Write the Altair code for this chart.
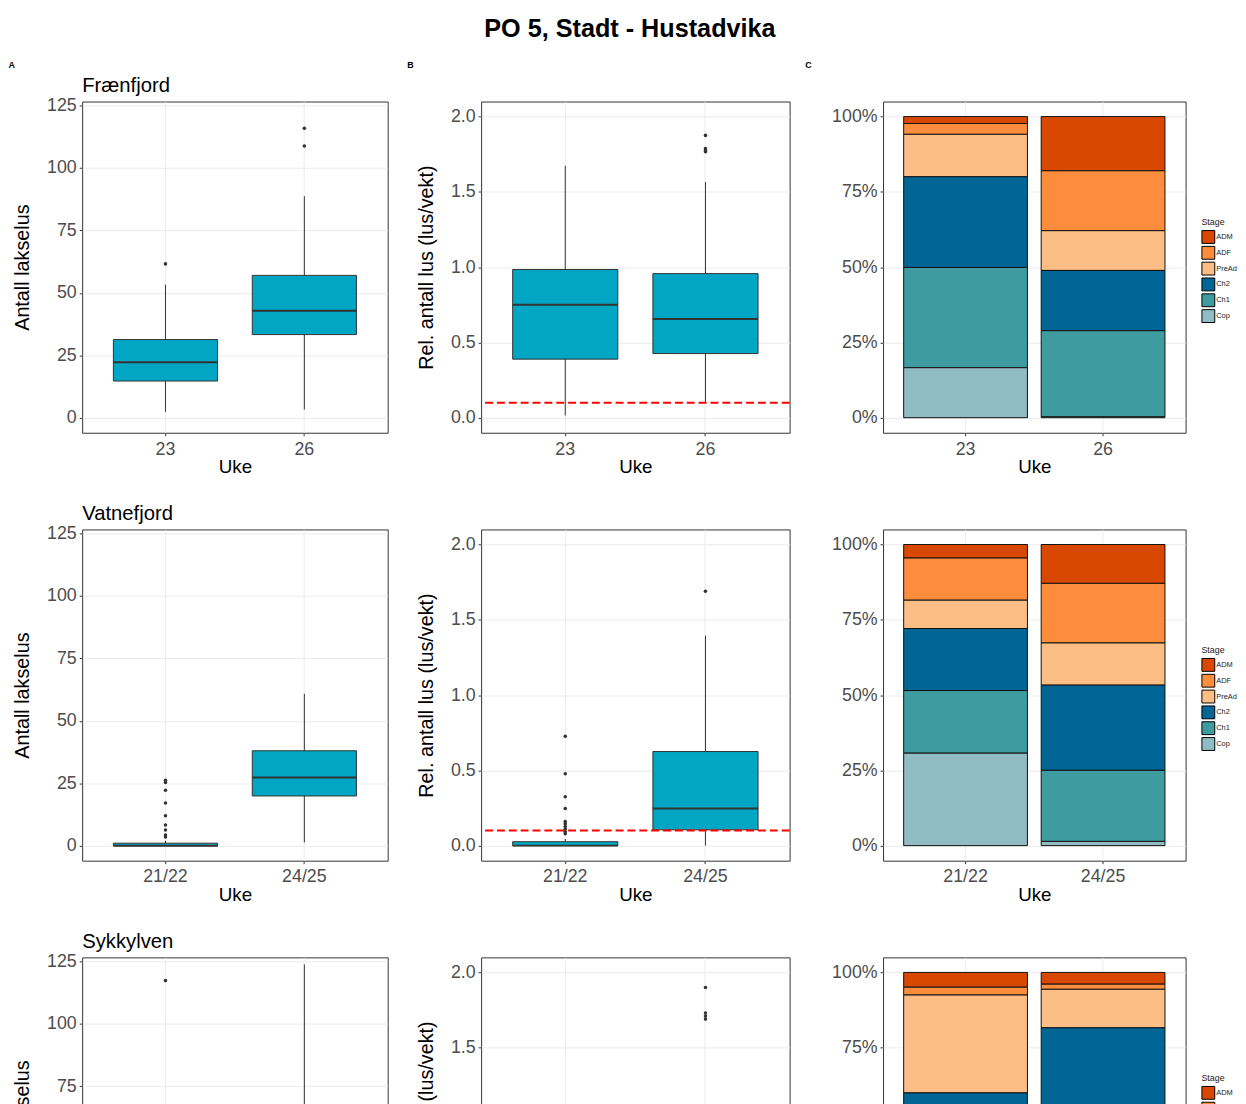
import altair as alt
import pandas as pd

FONT = "Liberation Sans"
MAIN_TITLE = "PO 5, Stadt - Hustadvika"
PANEL_LABELS = ["A", "B", "C"]
SITES = ["Frænfjord", "Vatnefjord", "Sykkylven"]
WEEKS = [["23", "26"], ["21/22", "24/25"], ["22", "25"]]
X_TITLE = "Uke"
COUNT_TITLE = "Antall lakselus"
REL_TITLE = "Rel. antall lus (lus/vekt)"

# Panel A: lice count per fish (box statistics per week)
COUNT_LO = [[2.4, 3.3], [0.0, 1.3], [0.0, 4.0]]
COUNT_Q1 = [[14.7, 33.3], [0.0, 19.9], [2.0, 30.0]]
COUNT_MED = [[22.2, 42.8], [0.0, 27.3], [8.0, 47.0]]
COUNT_Q3 = [[31.3, 57.0], [1.0, 38.0], [20.0, 66.0]]
COUNT_HI = [[53.3, 88.7], [2.0, 60.8], [45.0, 123.8]]
COUNT_OUT = [
    [[61.6], [108.8, 115.9]],
    [[3.5, 4.3, 6.3, 8.3, 12.0, 17.1, 22.2, 25.3, 26.2], []],
    [[117.3, 62.0], []],
]

# Panel B: relative lice count (lice / weight)
REL_LO = [[0.015, 0.103], [0.0, 0.0], [0.0, 0.05]]
REL_Q1 = [[0.389, 0.426], [0.0, 0.105], [0.03, 0.33]]
REL_MED = [[0.750, 0.656], [0.0, 0.246], [0.12, 0.58]]
REL_Q3 = [[0.984, 0.957], [0.026, 0.625], [0.33, 0.82]]
REL_HI = [[1.674, 1.565], [0.044, 1.395], [0.70, 1.05]]
REL_OUT = [
    [[], [1.875, 1.788, 1.775, 1.766]],
    [[0.079, 0.092, 0.11, 0.127, 0.145, 0.16, 0.246, 0.325, 0.478, 0.726], [1.689]],
    [[], [1.90, 1.73, 1.71, 1.69]],
]
THRESHOLD = 0.1

# Panel C: stage composition (%), order as STAGES
STAGES = ["ADM", "ADF", "PreAd", "Ch2", "Ch1", "Cop"]
STAGE_COLORS = ["#D94801", "#FD8D3C", "#FDBE85", "#016595", "#3E9B9F", "#92BCC4"]
SHARE = [
    [[2.3, 3.6, 14.1, 30.1, 33.3, 16.6], [18.0, 19.9, 13.2, 20.0, 28.6, 0.3]],
    [[4.5, 14.0, 9.4, 20.6, 20.8, 30.7], [12.9, 19.8, 14.0, 28.3, 23.6, 1.4]],
    [[4.9, 2.6, 32.5, 25.0, 20.0, 15.0], [3.9, 1.7, 12.8, 41.0, 28.0, 12.6]],
]

COUNT_TICKS = [0, 25, 50, 75, 100, 125]
REL_TICKS = [0, 0.5, 1.0, 1.5, 2.0]
PCT_TICKS = [0, 0.25, 0.5, 0.75, 1.0]

W_A, W_B, W_C, H = 309, 312, 306, 335
BOX_FILL = "#00A6C4"
DARK = "#333333"
LABEL_Y = -41
LABEL_X = [-74.5, -74.8, -78.7]
SITE_Y = -9.7
MAIN_X, MAIN_Y = 150.5, -65.7   # relative to the top-middle panel


def text_layer(text, xpos, ypos, size, weight, baseline, align="left"):
    return alt.Chart(pd.DataFrame({"t": [text]})).mark_text(
        align=align, baseline=baseline, font=FONT, fontSize=size,
        fontWeight=weight, color="black"
    ).encode(x=alt.value(xpos), y=alt.value(ypos), text="t:N")


def box_panel(i, lo, q1, med, q3, hi, out, width, ydom, yvals, yfmt, ytitle,
              label=None, label_x=0, site_title=None, threshold=None,
              main_title=None):
    weeks = WEEKS[i]
    stats = pd.DataFrame({"week": weeks, "lo": lo[i], "q1": q1[i],
                          "med": med[i], "q3": q3[i], "hi": hi[i]})
    ow, ov = [], []
    for w, vals in zip(weeks, out[i]):
        for v in vals:
            ow.append(w)
            ov.append(v)
    outl = pd.DataFrame({"week": ow, "val": ov})
    x = alt.X("week:N", sort=weeks,
              scale=alt.Scale(paddingInner=0.25, paddingOuter=0.225),
              axis=alt.Axis(title=X_TITLE, labelAngle=0, bandPosition=0.5))
    y_scale = alt.Scale(domain=ydom, nice=False, zero=False)
    y_axis = alt.Axis(title=ytitle, values=yvals, format=yfmt)
    base = alt.Chart(stats)
    whisk = base.mark_rule(color=DARK, strokeWidth=1).encode(
        x=x, y=alt.Y("lo:Q", scale=y_scale, axis=y_axis), y2="hi:Q")
    box = base.mark_bar(fill=BOX_FILL, stroke=DARK, strokeWidth=1).encode(
        x=x, y="q1:Q", y2="q3:Q")
    medi = base.mark_tick(color=DARK, thickness=2, size=0.75 * width / 2.2,
                          opacity=1).encode(x=x, y="med:Q")
    pts = alt.Chart(outl).mark_circle(color=DARK, size=13, opacity=1).encode(
        x=x, y="val:Q")
    layers = [whisk, box, medi, pts]
    if threshold is not None:
        layers.append(
            alt.Chart(pd.DataFrame({"thr": [threshold]})).mark_rule(
                color="#FF0000", strokeDash=[8, 4], strokeWidth=2
            ).encode(y="thr:Q"))
    if label is not None:
        layers.append(text_layer(label, label_x, LABEL_Y, 9, "bold", "top"))
    if site_title is not None:
        layers.append(text_layer(site_title, 0, SITE_Y, 20.5, "normal",
                                 "alphabetic"))
    if main_title is not None:
        layers.append(text_layer(main_title, MAIN_X, MAIN_Y, 25.5, "bold",
                                 "alphabetic", align="center"))
    return alt.layer(*layers).properties(width=width, height=H)


def stage_panel(i, label=None, label_x=0):
    wk, st, ix, sh = [], [], [], []
    for w, shares in zip(WEEKS[i], SHARE[i]):
        for k, (s, v) in enumerate(zip(STAGES, shares)):
            wk.append(w)
            st.append(s)
            ix.append(k)
            sh.append(v)
    df = pd.DataFrame({"week": wk, "stage": st, "idx": ix, "share": sh})
    bars = alt.Chart(df).mark_bar(stroke="#111111", strokeWidth=1).encode(
        x=alt.X("week:N", sort=WEEKS[i],
                scale=alt.Scale(paddingInner=0.1, paddingOuter=0.15),
                axis=alt.Axis(title=X_TITLE, labelAngle=0, bandPosition=0.5)),
        y=alt.Y("share:Q", stack="normalize",
                scale=alt.Scale(domain=[-0.05, 1.05], nice=False, zero=False),
                axis=alt.Axis(title=None, values=PCT_TICKS, format=".0%")),
        color=alt.Color("stage:N",
                        scale=alt.Scale(domain=STAGES, range=STAGE_COLORS),
                        legend=alt.Legend(title="Stage", orient="none",
                                          legendX=322, legendY=118)),
        order=alt.Order("idx:Q", sort="descending"),
    )
    layers = [bars]
    if label is not None:
        layers.append(text_layer(label, label_x, LABEL_Y, 9, "bold", "top"))
    return alt.layer(*layers).properties(width=W_C, height=H)


panels = []
for i in range(3):
    first = i == 0
    panels.append(box_panel(
        i, COUNT_LO, COUNT_Q1, COUNT_MED, COUNT_Q3, COUNT_HI, COUNT_OUT, W_A,
        [-6, 126.6], COUNT_TICKS, "d", COUNT_TITLE,
        label=PANEL_LABELS[0] if first else None, label_x=LABEL_X[0],
        site_title=SITES[i]))
    panels.append(box_panel(
        i, REL_LO, REL_Q1, REL_MED, REL_Q3, REL_HI, REL_OUT, W_B,
        [-0.1, 2.1], REL_TICKS, ".1f", REL_TITLE,
        label=PANEL_LABELS[1] if first else None, label_x=LABEL_X[1],
        threshold=THRESHOLD, main_title=MAIN_TITLE if first else None))
    panels.append(stage_panel(i, label=PANEL_LABELS[2] if first else None,
                              label_x=LABEL_X[2]))

chart = alt.concat(
    *panels, columns=3, spacing={"row": 97.8, "column": 94.5},
    align="each", bounds="flush",
    padding={"top": 0, "left": 0, "right": 0, "bottom": 0},
).resolve_scale(
    color="independent"
).resolve_legend(
    color="independent"
).configure_view(
    stroke=DARK, strokeWidth=1
).configure_axis(
    grid=True, gridColor="#EBEBEB", gridWidth=1, domain=False,
    tickColor=DARK, tickSize=3, tickWidth=1,
    labelColor="#4D4D4D", labelFontSize=18, labelFont=FONT, labelPadding=2,
    titleFont=FONT, titleColor="black", titleFontWeight="normal",
).configure_axisY(
    titleFontSize=20, titlePadding=14, labelPadding=3,
).configure_axisX(
    titleFontSize=19, titlePadding=0, labelPadding=4.5,
).configure_legend(
    titleFontSize=9, titleFontWeight="normal", titleFont=FONT,
    titleColor="#1a1a1a", titlePadding=3, padding=0,
    labelFontSize=7.5, labelFont=FONT, labelColor="#1a1a1a", labelOffset=1,
    symbolType="square", symbolSize=169, symbolStrokeColor="black",
    symbolStrokeWidth=1, rowPadding=-3,
)

chart.save("out.html", embed_options={"renderer": "svg", "actions": False})
